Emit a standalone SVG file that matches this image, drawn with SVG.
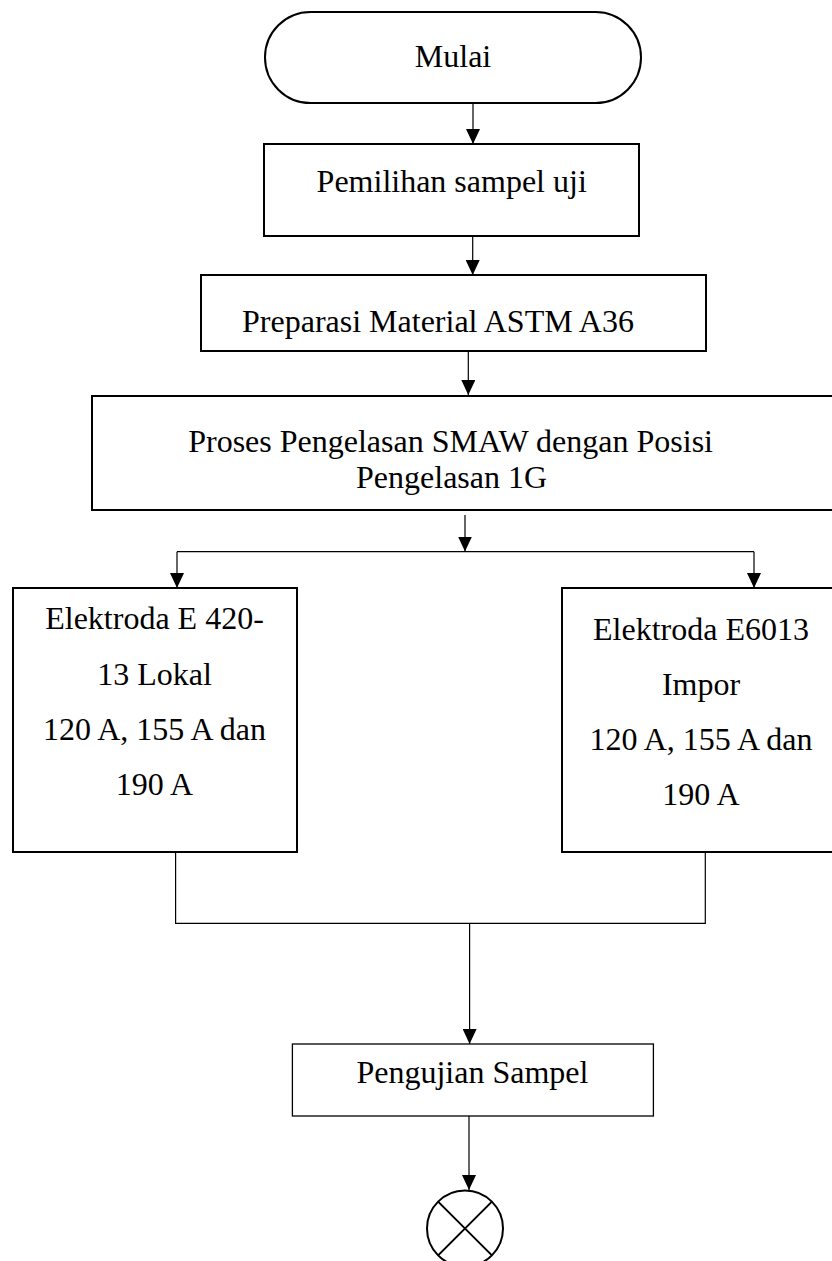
<svg xmlns="http://www.w3.org/2000/svg" width="832" height="1261" viewBox="0 0 832 1261">
<style>
.box{fill:#fff;stroke:#000;stroke-width:2}
.thin{fill:#fff;stroke:#000;stroke-width:1.3}
.con{fill:none;stroke:#000;stroke-width:1.2}
text{font-family:"Liberation Serif","Tinos","Times New Roman",Times,"DejaVu Serif",serif;font-size:32px;fill:#000;text-anchor:middle}
</style>
<defs>
<marker id="ah" viewBox="0 0 15 14" refX="15" refY="7" markerWidth="15" markerHeight="14" markerUnits="userSpaceOnUse" orient="auto">
<path d="M0,0 L15,7 L0,14 z" fill="#000"/>
</marker>
</defs>
<rect width="832" height="1261" fill="#fff"/>
<g id="connectors">
<line class="con" x1="473" y1="103" x2="473" y2="144" marker-end="url(#ah)"/>
<line class="con" x1="472.7" y1="236" x2="472.7" y2="275" marker-end="url(#ah)"/>
<line class="con" x1="468.3" y1="351" x2="468.3" y2="395" marker-end="url(#ah)"/>
<line class="con" x1="465" y1="515" x2="465" y2="551.5" marker-end="url(#ah)"/>
<line class="con" x1="177" y1="551.7" x2="754" y2="551.7"/>
<line class="con" x1="177" y1="551.7" x2="177" y2="588" marker-end="url(#ah)"/>
<line class="con" x1="754" y1="551.7" x2="754" y2="588" marker-end="url(#ah)"/>
<polyline class="con" points="175.6,852 175.6,923.3 705.3,923.3 705.3,852"/>
<line class="con" x1="469.6" y1="923.3" x2="469.6" y2="1044" marker-end="url(#ah)"/>
<line class="con" x1="469" y1="1116" x2="469" y2="1190" marker-end="url(#ah)"/>
</g>
<g id="mulai">
<rect class="box" x="265" y="12" width="376" height="91" rx="45.5" ry="45.5"/>
<text x="453" y="67">Mulai</text>
</g>
<g id="pemilihan">
<rect class="box" x="264" y="144" width="375" height="92"/>
<text x="451.7" y="192">Pemilihan sampel uji</text>
</g>
<g id="preparasi">
<rect class="box" x="201" y="275" width="505" height="76"/>
<text x="438" y="332">Preparasi Material ASTM A36</text>
</g>
<g id="proses">
<rect class="box" x="92" y="396" width="748" height="114"/>
<text x="450.6" y="452">Proses Pengelasan SMAW dengan Posisi</text>
<text x="451.6" y="488">Pengelasan 1G</text>
</g>
<g id="elektroda-lokal">
<rect class="box" x="13" y="588" width="284" height="264"/>
<text x="154.5" y="629">Elektroda E 420-</text>
<text x="154.5" y="685">13 Lokal</text>
<text x="154.5" y="740">120 A, 155 A dan</text>
<text x="154.5" y="795">190 A</text>
</g>
<g id="elektroda-impor">
<rect class="box" x="562" y="588" width="278" height="264"/>
<text x="701" y="640">Elektroda E6013</text>
<text x="701" y="695">Impor</text>
<text x="701" y="750">120 A, 155 A dan</text>
<text x="701" y="805">190 A</text>
</g>
<g id="pengujian">
<rect class="thin" x="292.4" y="1044" width="361" height="72"/>
<text x="472.4" y="1083">Pengujian Sampel</text>
</g>
<g id="selesai">
<circle cx="465" cy="1228.5" r="38" fill="#fff" stroke="#000" stroke-width="2"/>
<line x1="438.1" y1="1201.6" x2="491.9" y2="1255.4" stroke="#000" stroke-width="2"/>
<line x1="491.9" y1="1201.6" x2="438.1" y2="1255.4" stroke="#000" stroke-width="2"/>
</g>
</svg>
